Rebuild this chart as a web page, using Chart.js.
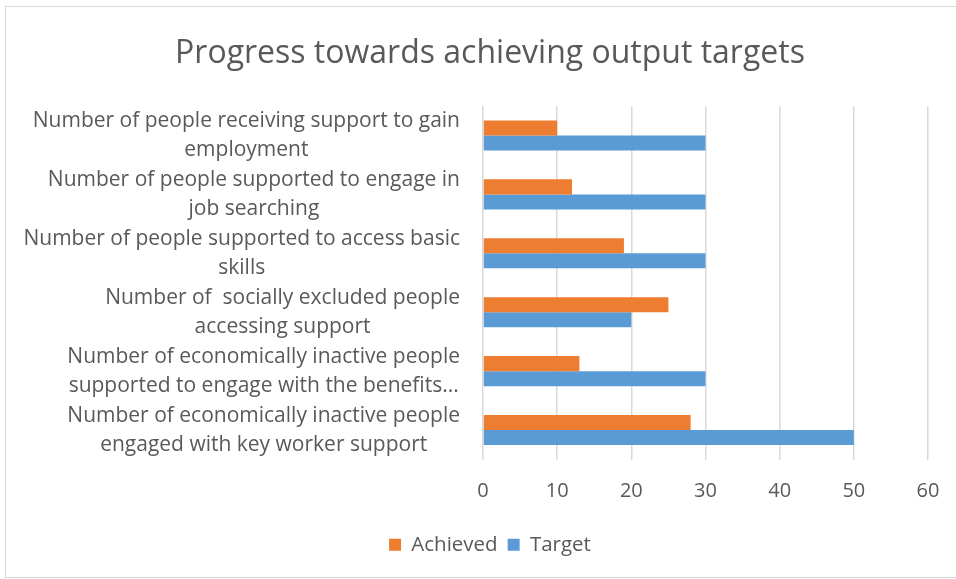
<!DOCTYPE html>
<html>
<head>
<meta charset="utf-8">
<script src="https://cdn.jsdelivr.net/npm/chart.js@4"></script>
<style>
  body { margin: 0; background: #fff; }
  #wrap { position: relative; width: 956px; height: 579px; overflow: hidden; }
  #frame { position: absolute; left: 5px; top: 6px; width: 970px; height: 570px; border: 1px solid #d9d9d9; pointer-events: none; }
</style>
</head>
<body>
<div id="wrap">
  <canvas id="outputChart" width="956" height="579"></canvas>
  <div id="frame"></div>
</div>
<script>
const categories = [
    ["Number of people receiving support to gain", "employment"],
    ["Number of people supported to engage in", "job searching"],
    ["Number of people supported to access basic", "skills"],
    ["Number of  socially excluded people", "accessing support"],
    ["Number of economically inactive people", "supported to engage with the benefits..."],
    ["Number of economically inactive people", "engaged with key worker support"]
];
const achieved = [10, 12, 19, 25, 13, 28];
const target = [30, 30, 30, 20, 30, 50];
const axisMax = 60;
const axisStep = 10;

const textColor = "#595959";
const fontFamily = "'Open Sans'";
const labelFont = "21px " + fontFamily;

// Excel-style category labels: each wrapped label is a centred block, right-aligned to the axis
const wrappedLabels = {
    id: "wrappedLabels",
    afterDraw(chart) {
        const ctx = chart.ctx;
        const yScale = chart.scales.y;
        const right = chart.chartArea.left - 23;
        ctx.save();
        ctx.font = labelFont;
        ctx.fillStyle = textColor;
        ctx.textAlign = "center";
        ctx.textBaseline = "middle";
        categories.forEach((lines, i) => {
            const yc = yScale.getPixelForTick(i);
            const w = Math.max(...lines.map(l => ctx.measureText(l).width));
            const cx = right - w / 2;
            lines.forEach((line, j) => {
                ctx.fillText(line, cx, yc + (j - (lines.length - 1) / 2) * 29);
            });
        });
        ctx.restore();
    }
};

new Chart(document.getElementById("outputChart"), {
    type: "bar",
    data: {
        labels: categories,
        datasets: [
            { label: "Achieved", data: achieved, backgroundColor: "#ED7D31" },
            { label: "Target", data: target, backgroundColor: "#5B9BD5" }
        ]
    },
    options: {
        indexAxis: "y",
        responsive: false,
        animation: false,
        categoryPercentage: 0.51,
        barPercentage: 1,
        layout: { padding: { left: 52, right: 28, top: 12, bottom: 14 } },
        scales: {
            x: {
                min: 0,
                max: axisMax,
                ticks: { stepSize: axisStep, color: textColor, font: { family: fontFamily, size: 20 }, padding: 20 },
                grid: { color: "#d9d9d9", lineWidth: 1.5, drawTicks: false },
                border: { display: false },
                afterFit: scale => {
                    scale.height = 65;
                    scale.paddingRight = 0;
                }
            },
            y: {
                ticks: { display: false },
                grid: { display: false },
                border: { display: false },
                afterFit: scale => { scale.width = 431; }
            }
        },
        plugins: {
            title: {
                display: true,
                text: "Progress towards achieving output targets",
                color: textColor,
                font: { family: fontFamily, size: 32, weight: "normal" },
                padding: { top: 23, bottom: 32.6 }
            },
            legend: {
                position: "bottom",
                labels: {
                    color: textColor,
                    font: { family: fontFamily, size: 20.5 },
                    boxWidth: 12,
                    boxHeight: 12,
                    padding: 10
                }
            },
            tooltip: { enabled: false }
        }
    },
    plugins: [wrappedLabels]
});
</script>
</body>
</html>
